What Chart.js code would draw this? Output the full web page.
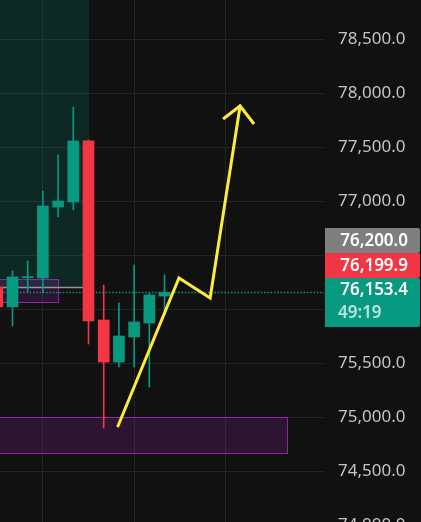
<!DOCTYPE html>
<html>
<head>
<meta charset="utf-8">
<script src="https://cdn.jsdelivr.net/npm/chart.js@4.4.1/dist/chart.umd.min.js"></script>
<style>
  html, body { margin: 0; padding: 0; background: #111111; overflow: hidden; width: 421px; height: 522px; }
  #wrap { position: absolute; left: 0; top: -30px; width: 421px; height: 582px; }
</style>
</head>
<body>
<div id="wrap"><canvas id="c"></canvas></div>
<script>
// ---- data ----
const candleIndex = [0, 1, 2, 3, 4, 5, 6, 7, 8, 9, 10, 11];
const opens  = [76204, 76019, 76290, 76287, 76944, 76991, 77556, 75898, 75509, 75741, 75870, 76120];
const highs  = [76250, 76352, 76444, 77093, 77426, 77870, 77565, 76222, 76056, 76407, 76148, 76315];
const lows   = [75950, 75843, 76157, 76148, 76852, 76917, 75676, 74898, 75463, 75463, 75278, 75944];
const closes = [76019, 76296, 76300, 76954, 77000, 77556, 75889, 75509, 75750, 75880, 76130, 76153.4];

const yTicks = [74000, 74500, 75000, 75500, 76000, 76500, 77000, 77500, 78000, 78500, 79000];
const xGrid = [3, 9, 15];

const pathX = [7.94, 11.95, 14.0, 15.97];
const pathY = [74917, 76287, 76102, 77880];
const arrowX = [14.85, 15.97, 16.89];
const arrowY = [77759, 77880, 77713];

const longZoneX = [-1, 6.03];
const longZoneY = [76200, 79500];
const smallBoxX = [-1, 4.0];
const smallBoxY = [76065, 76278];
const bigBoxX = [-1, 19.06];
const bigBoxY = [74667, 75000];

const entryPrice = 76200;
const prevPrice = 76199.9;
const lastPrice = 76153.4;
const countdown = '49:19';

const xMin = 0.178, xMax = 21.49;
const yMin = 73750, yMax = 79138.9;

// ---- colors ----
const UP = '#089981', DOWN = '#f23645';
const bodyColors = opens.map((o, i) => closes[i] >= o ? UP : DOWN);

const fmt = v => v.toLocaleString('en-US', { minimumFractionDigits: 1, maximumFractionDigits: 1 });

const zeroPad = s => { s.paddingTop = 0; s.paddingBottom = 0; s.paddingLeft = 0; s.paddingRight = 0; };

const zonePlugin = {
  id: 'zones',
  beforeDatasetsDraw(chart) {
    const { ctx, scales: { x, y }, chartArea } = chart;
    ctx.save();
    ctx.beginPath();
    ctx.rect(chartArea.left, chartArea.top, chartArea.right - chartArea.left, chartArea.bottom - chartArea.top);
    ctx.clip();
    const rect = (xs, ys, fill, stroke) => {
      const x0 = x.getPixelForValue(xs[0]), x1 = x.getPixelForValue(xs[1]);
      const y0 = y.getPixelForValue(ys[1]), y1 = y.getPixelForValue(ys[0]);
      ctx.fillStyle = fill;
      ctx.fillRect(x0, y0, x1 - x0, y1 - y0);
      if (stroke) {
        ctx.strokeStyle = stroke;
        ctx.lineWidth = 1;
        ctx.strokeRect(Math.round(x0) + 0.5, Math.round(y0) + 0.5, Math.round(x1 - x0), Math.round(y1 - y0));
      }
    };
    rect(longZoneX, longZoneY, 'rgba(8,153,129,0.18)', null);
    rect(smallBoxX, smallBoxY, 'rgba(156,39,176,0.2)', 'rgba(156,39,176,0.9)');
    rect(bigBoxX, bigBoxY, 'rgba(156,39,176,0.2)', 'rgba(156,39,176,0.9)');
    ctx.restore();
  },
  afterDraw(chart) {
    const { ctx, scales: { y } } = chart;
    const py = y.getPixelForValue(lastPrice);
    const gTop = Math.round(py - 14);
    const left = 325, right = 421, w = right - left;
    ctx.save();
    const box = (top, h, color) => {
      ctx.fillStyle = color;
      ctx.beginPath();
      ctx.roundRect(left, top, w - 1, h, [0, 2, 2, 0]);
      ctx.fill();
    };
    box(gTop - 50, 25, '#7f7f7f');
    box(gTop - 25, 25, DOWN);
    box(gTop, 49, UP);
    ctx.textAlign = 'right';
    ctx.textBaseline = 'middle';
    ctx.font = '600 17px "Noto Sans"';
    ctx.fillStyle = '#ffffff';
    ctx.fillText(fmt(entryPrice), 408, gTop - 37);
    ctx.fillText(fmt(prevPrice), 408, gTop - 12);
    ctx.fillText(fmt(lastPrice), 408, gTop + 12);
    ctx.fillStyle = 'rgba(255,255,255,0.72)';
    ctx.textAlign = 'left';
    ctx.fillText(countdown, 338, gTop + 35);
    ctx.restore();
  }
};

new Chart(document.getElementById('c'), {
  data: {
    datasets: [
      {
        type: 'line',
        order: 0,
        data: pathX.map((v, i) => ({ x: v, y: pathY[i] })),
        borderColor: '#ffeb3b',
        borderWidth: 3,
        pointRadius: 0,
        tension: 0,
        borderCapStyle: 'round',
        borderJoinStyle: 'miter'
      },
      {
        type: 'line',
        order: 0,
        data: arrowX.map((v, i) => ({ x: v, y: arrowY[i] })),
        borderColor: '#ffeb3b',
        borderWidth: 3,
        pointRadius: 0,
        tension: 0,
        borderCapStyle: 'butt',
        borderJoinStyle: 'miter'
      },
      {
        type: 'bar',
        order: 1,
        grouped: false,
        data: candleIndex.map((v, i) => ({ x: v, y: [opens[i], closes[i]] })),
        backgroundColor: bodyColors,
        borderWidth: 0,
        barThickness: 11
      },
      {
        type: 'bar',
        order: 2,
        grouped: false,
        data: candleIndex.map((v, i) => ({ x: v, y: [lows[i], highs[i]] })),
        backgroundColor: bodyColors,
        borderWidth: 0,
        barThickness: 1
      },
      {
        type: 'line',
        order: 3,
        data: [{ x: xMin, y: lastPrice }, { x: xMax, y: lastPrice }],
        borderColor: UP,
        borderWidth: 1.5,
        borderDash: [1.5, 1.8],
        pointRadius: 0
      },
      {
        type: 'line',
        order: 4,
        data: [{ x: longZoneX[0], y: entryPrice }, { x: longZoneX[1], y: entryPrice }],
        borderColor: 'rgba(170,170,170,0.85)',
        borderWidth: 1.5,
        pointRadius: 0
      }
    ]
  },
  options: {
    responsive: true,
    maintainAspectRatio: false,
    animation: false,
    events: [],
    layout: { padding: 0, autoPadding: false },
    plugins: { legend: { display: false }, tooltip: { enabled: false } },
    scales: {
      x: {
        type: 'linear',
        min: xMin,
        max: xMax,
        offset: false,
        afterBuildTicks: s => { s.ticks = xGrid.map(v => ({ value: v })); },
        afterFit: s => { s.height = 0; zeroPad(s); },
        ticks: { display: false },
        border: { display: false },
        grid: { color: '#242424', drawTicks: false, offset: false, lineWidth: 1 }
      },
      y: {
        type: 'linear',
        position: 'right',
        min: yMin,
        max: yMax,
        afterBuildTicks: s => { s.ticks = yTicks.map(v => ({ value: v })); },
        afterFit: s => { s.width = 97; zeroPad(s); },
        border: { display: false },
        grid: { color: '#242424', drawTicks: false, lineWidth: 1 },
        ticks: {
          color: '#c4c4c4',
          padding: 14,
          font: { family: '"Noto Sans"', size: 17 },
          callback: v => fmt(v)
        }
      }
    }
  },
  plugins: [zonePlugin]
});
</script>
</body>
</html>
